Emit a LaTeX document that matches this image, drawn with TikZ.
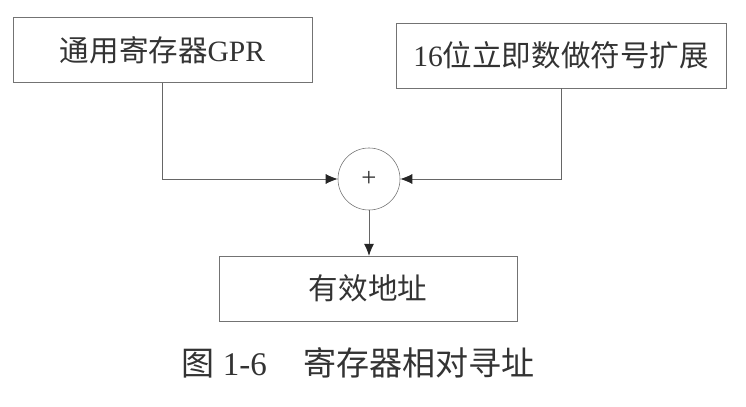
\documentclass[tikz,border=0pt]{standalone}
\usepackage{fontspec}
\setmainfont{Liberation Serif}
\newfontfamily\cjk{Noto Sans CJK SC}
\usepackage{tikz}
\usetikzlibrary{arrows.meta}
\tikzset{>={Latex[length=3mm,width=2.5mm,color=black!85]}}
\tikzset{
  regBox/.style={shape=rectangle,draw=black!55,fill=white,align=center,text=black!80,inner sep=0pt,minimum height=1.62cm,font=\fontsize{21}{25}\selectfont},
  sumNode/.style={circle,draw=black!55,fill=white,inner sep=0pt,minimum size=1.55cm,text=black!80,font=\fontsize{19}{22}\selectfont},
  flowLink/.style={draw=black!60,->,line width=0.6pt},
  capText/.style={draw=none,text=black!80,font=\fontsize{23.5}{28}\selectfont}
}
\begin{document}
\begin{tikzpicture}[x=0.025cm,y=-0.025cm]
        \useasboundingbox (0,0) rectangle (746,407);
        \node[minimum width=7.48cm] (gpr) [regBox] at (162.5,50) {{\cjk 通用寄存器}GPR};
        \node[minimum width=8.25cm] (imm) [regBox] at (561,55.5) {16{\cjk 位立即数做符号扩展}};
        \node (add) [sumNode] at (369,179) {+};
        \node[minimum width=7.45cm] (ea) [regBox] at (368,288.5) {\cjk 有效地址};
        \node (cap) [capText] at (358,363) {{\cjk 图} 1-6\hspace{1.1em}{\cjk 寄存器相对寻址}};

    \draw[flowLink] (gpr.south) |- (add.west);
    \draw[flowLink] (imm.south) |- (add.east);
    \draw[flowLink] (add.south) -- (ea.north -| add.south);

\end{tikzpicture}
\end{document}
